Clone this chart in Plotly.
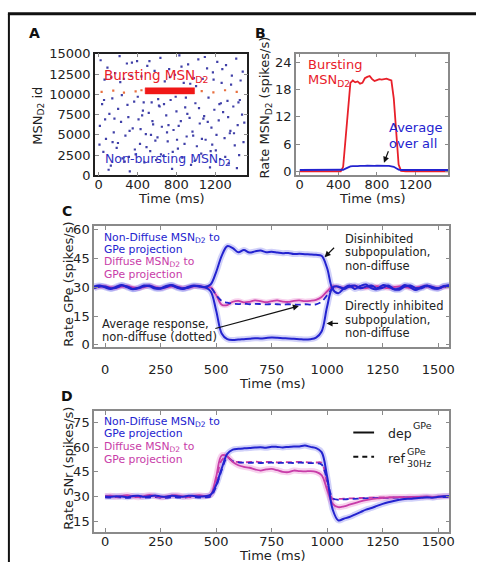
import plotly.graph_objects as go

W, H = 481, 570
def PX(x): return x / W
def PY(y): return 1 - y / H

# ---------------- Panel A: raster ----------------
raster_t = [20, 35, 12, 48, 60, 75, 90, 110, 125, 140, 155, 170, 185, 200, 215, 230, 245, 260, 275, 290,
            305, 320, 335, 350, 365, 380, 395, 410, 425, 440, 455, 470, 485, 500, 515, 530, 545, 560, 575, 590,
            605, 620, 635, 650, 665, 680, 695, 710, 725, 740, 755, 770, 785, 800, 815, 830, 845, 860, 875, 890,
            905, 920, 935, 950, 965, 980, 995, 1010, 1025, 1040, 1055, 1070, 1085, 1100, 1115, 1130, 1145, 1160,
            1175, 1190, 1205, 1220, 1235, 1250, 1265, 1280, 1295, 1310, 1325, 1340, 1355, 1370, 1385, 1400, 1415,
            1430, 1445, 1460, 1475, 1490,
            8, 55, 102, 130, 162, 198, 222, 268, 296, 318, 342, 372, 402, 431, 463, 492, 522, 553, 583, 612,
            641, 672, 703, 733, 762, 792, 823, 852, 883, 912, 942, 972, 1002, 1032, 1062, 1092, 1122, 1152, 1182,
            1212, 1242, 1272, 1302, 1332, 1362, 1392, 1422, 1452, 1482, 1498,
            66, 143, 238, 311, 447, 538, 627, 718, 806, 897, 988, 1077, 1168, 1257, 1349, 1438]
raster_id = [14200, 8800, 6100, 2900, 11800, 4500, 13300, 7600, 1200, 9500, 5300, 12600, 3400, 8200, 14700, 6600,
             2100, 11900, 4900, 13800, 7200, 500, 12300, 5800, 9100, 2600, 14100, 6900, 3900, 12200, 8000, 1600,
             5100, 13500, 7700, 3000, 9000, 6300, 12900, 1900, 4700, 8600, 14500, 6000, 2400, 11600, 7400, 4200,
             13100, 9300, 800, 5600, 12400, 7900, 3300, 14800, 6700, 2200, 11400, 8400, 4800, 13700, 7100, 1300,
             5400, 12000, 8900, 3600, 14300, 6400, 2700, 11900, 7300, 4400, 13200, 9600, 1000, 5900, 12700, 8100,
             3100, 14000, 6800, 2000, 11400, 7800, 4600, 13600, 9200, 1500, 5500, 12300, 8500, 3700, 14400, 6200,
             2500, 11700, 7500, 4100,
             3800, 9300, 700, 12100, 7000, 4000, 11500, 1700, 8700, 5500, 13900, 3200, 9700, 5700, 9000, 3500,
             14100, 6700, 4300, 9400, 2600, 8800, 5300, 12100, 2900, 9700, 6100, 13400, 3900, 7600, 11300, 4900,
             11000, 8300, 4500, 14600, 6600, 3000, 11800, 5000, 8800, 13100, 2300, 7200, 11200, 5200, 900, 9300,
             12800, 6500,
             6900, 4100, 9900, 2300, 7400, 5000, 8500, 6200, 4400, 9600, 1800, 7000, 3800, 8900, 5200, 9000]
burst_base_t = [30, 150, 260, 380, 440, 1060, 1180, 1300, 1420]
burst_base_id = [10300, 10450, 10200, 10350, 10500, 10400, 10250, 10500, 10300]
burst_t = [478, 986]
burst_id = [10050, 10800]
a_yticks = [0, 2500, 5000, 7500, 10000, 12500, 15000]
a_yticklabels = ["0", "2500", "5000", "7500", "10000", "12500", "15000"]

# ---------------- Panel B ----------------
t_b = [0, 25, 50, 75, 100, 125, 150, 175, 200, 225, 250, 275, 300, 325, 350, 375, 400, 425, 450, 475,
       500, 525, 550, 575, 600, 625, 650, 675, 700, 725, 750, 775, 800, 825, 850, 875, 900, 925, 950, 975,
       1000, 1025, 1050, 1075, 1100, 1125, 1150, 1175, 1200, 1225, 1250, 1275, 1300, 1325, 1350, 1375, 1400,
       1425, 1450, 1475, 1500, 1525, 1550]
rate_burst = [0, 0, 0, 0, 0, 0, 0, 0, 0, 0, 0, 0, 0, 0, 0, 0, 0, 0, 1, 7,
              14, 19.5, 20.0, 19.6, 19.8, 19.3, 19.5, 20.5, 20.8, 21.0, 20.3, 19.9, 20.1, 20.3, 20.2, 20.3, 20.4,
              20.2, 20.0, 16, 9, 1.5, 0.1, 0, 0, 0, 0, 0, 0, 0, 0, 0, 0, 0, 0, 0, 0, 0, 0, 0, 0, 0, 0]
rate_all = [0.3, 0.3, 0.3, 0.3, 0.3, 0.3, 0.3, 0.3, 0.3, 0.3, 0.3, 0.3, 0.3, 0.3, 0.3, 0.3, 0.3, 0.3, 0.35, 0.6,
            0.9, 1.1, 1.15, 1.1, 1.15, 1.2, 1.15, 1.2, 1.25, 1.2, 1.2, 1.2, 1.25, 1.2, 1.2, 1.2, 1.2,
            1.2, 1.15, 1.0, 0.7, 0.4, 0.3, 0.3, 0.3, 0.3, 0.3, 0.3, 0.3, 0.3, 0.3, 0.3, 0.3, 0.3, 0.3, 0.3, 0.3,
            0.3, 0.3, 0.3, 0.3, 0.3, 0.3]

# ---------------- Panel C (GPe) ----------------
t_c = [-50, -25, 0, 25, 50, 75, 100, 125, 150, 175, 200, 225, 250, 275, 300, 325, 350, 375, 400, 425, 450, 475,
       500, 525, 550, 575, 600, 625, 650, 675, 700, 725, 750, 775, 800, 825, 850, 875, 900, 925, 950, 975,
       1000, 1025, 1050, 1075, 1100, 1125, 1150, 1175, 1200, 1225, 1250, 1275, 1300, 1325, 1350, 1375, 1400,
       1425, 1450, 1475, 1500, 1525, 1550]
gpe_disinh = [30.5, 31, 30, 29.2, 30.4, 31.2, 30, 29, 29.8, 31, 30.6, 29.4, 29.6, 30.8, 31, 29.8, 29.2, 30.3, 31,
              30.4, 30.2, 31.5, 38, 46.5, 51.5, 50.5, 48.3, 49.5, 48.2, 48.8, 49.2, 48.4, 48.6, 48.2, 47.8, 48.0,
              47.4, 47.5, 47.3, 47.2, 47.0, 46.5, 40, 29, 27, 29.5, 31, 29.2, 30.8, 31.5, 29.5, 29.2, 31.2, 30.5,
              29, 29.5, 31.2, 30, 28.6, 30.2, 31, 29.6, 29.4, 30.8, 31]
gpe_inh = [29.5, 30.5, 30.5, 29.5, 29.8, 31, 30.5, 29.2, 29.5, 30.6, 31, 29.8, 29.3, 30.2, 31.2, 30.2, 29.4, 29.8,
           30.8, 30.8, 30, 28, 18, 6, 3, 2.5, 2.8, 3.0, 3.2, 3.5, 3.4, 3.6, 3.8, 3.7, 3.5, 3.4, 3.2, 3.0, 2.8, 3.0,
           3.8, 7, 20, 30, 30.5, 29.2, 30.6, 31, 29.6, 30.4, 31, 29.4, 29.8, 31, 29.2, 28.8, 30.5, 31, 29.5,
           29.6, 30.8, 30.2, 29.4, 30.5, 31.2]
gpe_avg = [30, 30.5, 30.2, 29.6, 30, 30.8, 30.3, 29.4, 29.7, 30.6, 30.6, 29.8, 29.6, 30.4, 30.8, 30, 29.5, 30,
           30.7, 30.4, 30, 30, 26, 23, 22, 21.5, 21.3, 21.5, 21.2, 21.4, 21.3, 21.1, 21.3, 21.2, 21.0, 21.2, 21.1,
           21.0, 21.2, 21.0, 21.2, 22.5, 26, 29.5, 30.2, 29.6, 30.3, 30.4, 29.8, 30.2, 30.6, 29.8, 30, 30.5, 29.6,
           29.4, 30.4, 30.6, 29.6, 29.8, 30.5, 30.2, 29.6, 30.2, 30.6]
gpe_diffuse = [30, 30.3, 30.5, 30, 29.8, 30.4, 30.6, 30, 29.6, 30.2, 30.8, 30.2, 29.7, 30, 30.6, 30.4, 29.8, 29.9,
               30.5, 30.6, 30, 30, 26, 21, 20.8, 22.5, 23, 22.2, 22.5, 23.2, 22.8, 22.3, 22.8, 23.2, 22.6, 22.4,
               23, 23.2, 22.8, 23, 23.5, 25, 28, 30.5, 30.2, 29.8, 30.4, 30.6, 30, 29.7, 30.3, 30.6, 30, 29.6,
               30.2, 30.5, 30.2, 29.7, 29.9, 30.4, 30.5, 30, 29.8, 30.2, 30.4]

# ---------------- Panel D (SNr) ----------------
t_d = [0, 25, 50, 75, 100, 125, 150, 175, 200, 225, 250, 275, 300, 325, 350, 375, 400, 425, 450, 475,
       500, 525, 550, 575, 600, 625, 650, 675, 700, 725, 750, 775, 800, 825, 850, 875, 900, 925, 950, 975,
       1000, 1025, 1050, 1075, 1100, 1125, 1150, 1175, 1200, 1225, 1250, 1275, 1300, 1325, 1350, 1375, 1400,
       1425, 1450, 1475, 1500, 1525, 1550]
snr_dep_nd = [30, 29.8, 30.2, 30, 29.6, 30.3, 30.5, 29.8, 30.2, 30.6, 30, 29.8, 30.4, 30.2, 29.9, 30.5, 30.3, 30,
              30.2, 31, 37, 47, 56, 58.5, 59, 59.3, 59.5, 59.8, 60, 59.7, 60.3, 60.2, 59.9, 60.2, 60.4, 60.5, 61,
              60.2, 59.5, 57, 42, 22, 15.5, 16.5, 17.5, 19, 20.5, 22, 23, 24.3, 25.5, 26.5, 27.3, 28, 28.5, 28.6,
              29, 29.2, 29.6, 29.3, 29.8, 30.2, 30.3]
snr_ref_nd = [29.5, 29.3, 29.6, 29.4, 29.2, 29.5, 29.7, 29.3, 29.4, 29.6, 29.3, 29.2, 29.5, 29.4, 29.3, 29.6, 29.5,
              29.3, 29.5, 30, 36, 46, 53.5, 51.5, 50.8, 50.6, 50.5, 50.6, 50.4, 50.5, 50.6, 50.4, 50.5, 50.5, 50.4,
              50.6, 50.5, 50.3, 50.2, 49.5, 40, 29, 28, 28.3, 28.5, 28.6, 28.8, 28.9, 29, 29.1, 29.2, 29.2, 29.3,
              29.3, 29.4, 29.4, 29.5, 29.5, 29.5, 29.6, 29.6, 29.6, 29.6]
snr_dep_d = [30.2, 30.5, 29.8, 30.4, 30.8, 30, 29.6, 30.3, 30.9, 30.2, 29.5, 29.9, 30.6, 30.7, 30, 29.7, 30.5,
             30.8, 30.3, 31, 42, 55, 54.5, 51, 49, 48, 47.5, 46.5, 45.8, 46.5, 46.8, 46, 45, 44.8, 45.8, 45.5, 45.3,
             45.5, 45, 43, 34, 25.5, 23.5, 24, 25, 26, 27, 27.8, 28.4, 28.8, 29.2, 29.4, 29.5, 29.6, 29.5, 29.8,
             29.7, 29.9, 30, 29.8, 30, 30.2, 30.1]
snr_ref_d = [30, 30.2, 29.9, 30.1, 30.3, 29.9, 29.7, 30, 30.4, 30.1, 29.8, 29.9, 30.2, 30.3, 30, 29.8, 30.2, 30.3,
             30.1, 30.5, 40, 52, 54, 51.5, 51, 50.8, 51, 51.2, 50.9, 51, 51.1, 50.8, 51, 50.9, 51, 51.1, 50.9, 50.8,
             50.7, 50.5, 38, 28.5, 28.5, 28.7, 28.8, 29, 29.1, 29.2, 29.3, 29.4, 29.4, 29.5, 29.5, 29.6, 29.6, 29.6,
             29.7, 29.7, 29.7, 29.8, 29.8, 29.8, 29.8]

RED = "#e8202a"
BLUE = "#2323cf"
MAG = "#c83ca8"
BLUE_BAND = "rgba(90,90,235,0.28)"
MAG_BAND = "rgba(225,90,190,0.28)"
FONT = "DejaVu Sans"

fig = go.Figure()

# Panel A traces
fig.add_trace(go.Scatter(x=raster_t, y=raster_id, mode="markers", xaxis="x", yaxis="y",
                         marker=dict(size=2.2, color="#4040a8", symbol="square")))
fig.add_trace(go.Scatter(x=burst_base_t, y=burst_base_id, mode="markers", xaxis="x", yaxis="y",
                         marker=dict(size=2.2, color="#e87040", symbol="square")))
fig.add_trace(go.Scatter(x=[burst_t[0], burst_t[1], burst_t[1], burst_t[0], burst_t[0]],
                         y=[burst_id[0], burst_id[0], burst_id[1], burst_id[1], burst_id[0]],
                         mode="lines", fill="toself", fillcolor="#f01818", line=dict(color="#f01818", width=0.5),
                         xaxis="x", yaxis="y"))

# Panel B
fig.add_trace(go.Scatter(x=t_b, y=rate_burst, mode="lines", line=dict(color=RED, width=1.8), xaxis="x2", yaxis="y2"))
fig.add_trace(go.Scatter(x=t_b, y=rate_all, mode="lines", line=dict(color=BLUE, width=1.8), xaxis="x2", yaxis="y2"))

# Panel C
for ys in (gpe_disinh, gpe_inh):
    fig.add_trace(go.Scatter(x=t_c, y=ys, mode="lines", line=dict(color=BLUE_BAND, width=6, shape="spline"),
                             xaxis="x3", yaxis="y3"))
fig.add_trace(go.Scatter(x=t_c, y=gpe_diffuse, mode="lines", line=dict(color=MAG_BAND, width=5, shape="spline"),
                         xaxis="x3", yaxis="y3"))
fig.add_trace(go.Scatter(x=t_c, y=gpe_diffuse, mode="lines", line=dict(color=MAG, width=1.8, shape="spline"),
                         xaxis="x3", yaxis="y3"))
fig.add_trace(go.Scatter(x=t_c, y=gpe_avg, mode="lines", line=dict(color=BLUE, width=1.8, dash="6px,4px", shape="spline"),
                         xaxis="x3", yaxis="y3"))
for ys in (gpe_disinh, gpe_inh):
    fig.add_trace(go.Scatter(x=t_c, y=ys, mode="lines", line=dict(color=BLUE, width=2, shape="spline"),
                             xaxis="x3", yaxis="y3"))

# Panel D
fig.add_trace(go.Scatter(x=t_d, y=snr_dep_nd, mode="lines", line=dict(color=BLUE_BAND, width=6, shape="spline"),
                         xaxis="x4", yaxis="y4"))
fig.add_trace(go.Scatter(x=t_d, y=snr_dep_d, mode="lines", line=dict(color=MAG_BAND, width=6, shape="spline"),
                         xaxis="x4", yaxis="y4"))
fig.add_trace(go.Scatter(x=t_d, y=snr_ref_d, mode="lines", line=dict(color=MAG, width=1.8, dash="6px,4px", shape="spline"),
                         xaxis="x4", yaxis="y4"))
fig.add_trace(go.Scatter(x=t_d, y=snr_ref_nd, mode="lines", line=dict(color=BLUE, width=1.8, dash="6px,4px", shape="spline"),
                         xaxis="x4", yaxis="y4"))
fig.add_trace(go.Scatter(x=t_d, y=snr_dep_d, mode="lines", line=dict(color=MAG, width=1.8, shape="spline"),
                         xaxis="x4", yaxis="y4"))
fig.add_trace(go.Scatter(x=t_d, y=snr_dep_nd, mode="lines", line=dict(color=BLUE, width=2, shape="spline"),
                         xaxis="x4", yaxis="y4"))


def axis(domain, rng, tickvals, anchor, linecolor="#8a8a8a", standoff=None, ticktext=None):
    d = dict(domain=domain, range=rng, tickvals=tickvals, anchor=anchor, showgrid=False, zeroline=False,
             showline=True, linecolor=linecolor, linewidth=1.5, mirror="ticks", ticks="inside", ticklen=4,
             tickcolor="#8a8a8a", tickwidth=1, tickfont=dict(family=FONT, size=13, color="#222222"))
    if standoff is not None:
        d["ticklabelstandoff"] = standoff
    if ticktext is not None:
        d["ticktext"] = ticktext
    return d

dAx = [PX(96), PX(250)]
dAy = [PY(173), PY(48)]
dBx = [PX(299), PX(453)]
dCx = [PX(95), PX(454)]
dCy = [PY(349), PY(225)]
dDy = [PY(539), PY(415)]

layout = dict(
    width=W, height=H, margin=dict(l=0, r=0, t=0, b=0), paper_bgcolor="white", plot_bgcolor="white",
    showlegend=False, font=dict(family=FONT, size=13, color="#222222"),
    xaxis=axis(dAx, [-38, 1530], [0, 400, 800, 1200], "y", linecolor="#202020", standoff=-4),
    yaxis=axis(dAy, [0, 15000], a_yticks, "x", linecolor="#202020", ticktext=a_yticklabels),
    xaxis2=axis(dBx, [-40, 1540], [0, 400, 800, 1200], "y2", standoff=-4),
    yaxis2=axis(dAy, [-0.9, 25.9], [0, 6, 12, 18, 24], "x2"),
    xaxis3=axis(dCx, [-50, 1550], [0, 250, 500, 750, 1000, 1250, 1500], "y3", standoff=10),
    yaxis3=axis(dCy, [-1, 62], [0, 15, 30, 45, 60], "x3"),
    xaxis4=axis(dCx, [-50, 1550], [0, 250, 500, 750, 1000, 1250, 1500], "y4", standoff=-3),
    yaxis4=axis(dDy, [8.5, 82], [15, 30, 45, 60, 75], "x4"),
)
fig.update_layout(**layout)

ann = []
def text(x, y, s, size=13, color="#222222", xanchor="left", angle=0, bold=False):
    ann.append(dict(x=PX(x), y=PY(y), xref="paper", yref="paper", text=(f"<b>{s}</b>" if bold else s),
                    showarrow=False, xanchor=xanchor, yanchor="middle", textangle=angle,
                    font=dict(family=FONT, size=size, color=color)))

def arrow(hx, hy, tx, ty):
    ann.append(dict(x=PX(hx), y=PY(hy), xref="paper", yref="paper", text="", showarrow=True,
                    ax=tx - hx, ay=ty - hy, arrowhead=2, arrowsize=1, arrowwidth=1.2, arrowcolor="#111111"))

# panel letters
text(35, 27, "A", size=14, color="#111111", xanchor="center", bold=True)
text(263, 27, "B", size=14, color="#111111", xanchor="center", bold=True)
text(68, 209, "C", size=14, color="#111111", xanchor="center", bold=True)
text(68, 399, "D", size=14, color="#111111", xanchor="center", bold=True)

# axis titles
text(38, 112, "MSN<sub>D2</sub> id", xanchor="center", angle=-90)
text(268, 103, "Rate MSN<sub>D2</sub> (spikes/s)", xanchor="center", angle=-90)
text(69, 285, "Rate GPe (spikes/s)", xanchor="center", angle=-90)
text(69, 474, "Rate SNr (spikes/s)", xanchor="center", angle=-90)
text(173, 197, "Time (ms)", xanchor="center")
text(376, 197, "Time (ms)", xanchor="center")
text(275, 387, "Time (ms)", xanchor="center")
text(275, 563, "Time (ms)", xanchor="center")

# panel A labels
text(103, 71, "Bursting MSN<sub>D2</sub>", size=13.5, color=RED)
text(104, 157, "Non-bursting MSN<sub>D2</sub>", size=12.5, color="#3030c0")

# panel B labels
text(309, 59, "Bursting", size=13, color=RED)
text(309, 75, "MSN<sub>D2</sub>", size=13, color=RED)
text(391, 124, "Average", size=13, color=BLUE)
text(391, 140, "over all", size=13, color=BLUE)
arrow(388, 160, 393, 147)

# panel C labels
text(103, 237, "Non-Diffuse MSN<sub>D2</sub> to", size=10.8, color=BLUE)
text(103, 249.5, "GPe projection", size=10.8, color=BLUE)
text(103, 262, "Diffuse MSN<sub>D2</sub> to", size=10.8, color=MAG)
text(103, 274.5, "GPe projection", size=10.8, color=MAG)
text(347, 238, "Disinhibited", size=11.5)
text(347, 252, "subpopulation,", size=11.5)
text(347, 266, "non-diffuse", size=11.5)
text(347, 307, "Directly inhibited", size=11.5)
text(347, 321, "subpopulation,", size=11.5)
text(347, 335, "non-diffuse", size=11.5)
text(101, 326, "Average response,", size=11.5)
text(101, 339, "non-diffuse (dotted)", size=11.5)
arrow(328, 257, 339, 246)
arrow(330, 325, 343, 325)
arrow(302, 307, 217, 330)

# panel D labels
text(103, 426, "Non-Diffuse MSN<sub>D2</sub> to", size=10.8, color=BLUE)
text(103, 438.5, "GPe projection", size=10.8, color=BLUE)
text(103, 452, "Diffuse MSN<sub>D2</sub> to", size=10.8, color=MAG)
text(103, 464.5, "GPe projection", size=10.8, color=MAG)
text(390, 438, "dep", size=12.5)
text(415, 430, "GPe", size=9.5)
text(390, 464, "ref", size=12.5)
text(409, 456, "GPe", size=9.5)
text(409, 469, "30Hz", size=9.5)

fig.update_layout(annotations=ann)

shapes = [
    dict(type="line", xref="paper", yref="paper", x0=PX(8), x1=1, y0=PY(7), y1=PY(7),
         line=dict(color="#111111", width=3)),
    dict(type="line", xref="paper", yref="paper", x0=PX(9), x1=PX(9), y0=PY(7), y1=0,
         line=dict(color="#111111", width=2)),
    dict(type="line", xref="paper", yref="paper", x0=PX(357), x1=PX(378), y0=PY(437), y1=PY(437),
         line=dict(color="#111111", width=2)),
    dict(type="line", xref="paper", yref="paper", x0=PX(357), x1=PX(378), y0=PY(462), y1=PY(462),
         line=dict(color="#111111", width=2, dash="5px,4px")),
]
fig.update_layout(shapes=shapes)

fig.write_html("out.html", config={"displayModeBar": False},
               post_script="document.body.style.margin='0';document.body.style.overflow='hidden';")
